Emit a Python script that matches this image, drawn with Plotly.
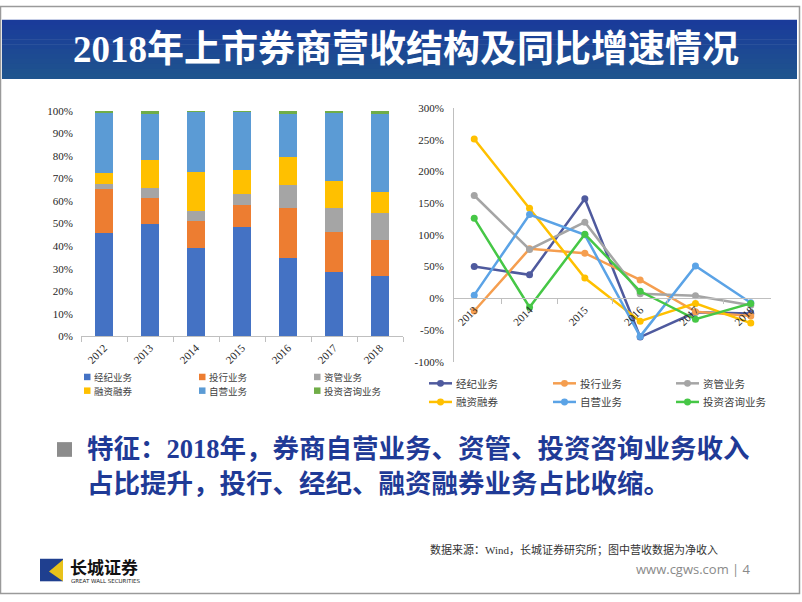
import plotly.graph_objects as go

W, H = 802, 602

# ---------------- data ----------------
years_share = ['2012', '2013', '2014', '2015', '2016', '2017', '2018']
years_growth = ['2013', '2014', '2015', '2016', '2017', '2018']
series_names = ['经纪业务', '投行业务', '资管业务', '融资融券', '自营业务', '投资咨询业务']

share_brokerage = [45.8, 50.0, 39.3, 48.6, 34.7, 28.5, 26.7]
share_ib = [19.4, 11.4, 11.7, 9.5, 22.4, 17.6, 16.2]
share_am = [2.3, 4.6, 4.6, 4.9, 9.8, 10.7, 11.9]
share_margin = [5.0, 12.3, 17.1, 10.7, 12.7, 12.3, 9.2]
share_prop = [26.7, 20.3, 26.9, 25.9, 18.8, 29.9, 34.8]
share_advisory = [0.8, 1.4, 0.4, 0.4, 1.6, 1.0, 1.2]

growth_brokerage = [50, 37, 157, -61, -22, -24]
growth_ib = [-20, 78, 71, 29, -21, -28]
growth_am = [162, 77, 120, 7, 4, -11]
growth_margin = [251, 142, 32, -36, -8, -39]
growth_prop = [5, 132, 100, -60, 51, -7]
growth_advisory = [126, -14, 101, 11, -33, -8]

share_ticks = [0, 10, 20, 30, 40, 50, 60, 70, 80, 90, 100]
share_tick_text = ['0%', '10%', '20%', '30%', '40%', '50%', '60%', '70%', '80%', '90%', '100%']
growth_ticks = [-100, -50, 0, 50, 100, 150, 200, 250, 300]
growth_tick_text = ['-100%', '-50%', '0%', '50%', '100%', '150%', '200%', '250%', '300%']

title_text = '2018年上市券商营收结构及同比增速情况'
note_line1 = '特征：2018年，券商自营业务、资管、投资咨询业务收入'
note_line2 = '占比提升，投行、经纪、融资融券业务占比收缩。'
source_text = '数据来源：Wind，长城证券研究所；图中营收数据为净收入'
site_text = 'www.cgws.com | 4'

bar_colors = ['#4472C4', '#ED7D31', '#A5A5A5', '#FFC000', '#5B9BD5', '#70AD47']
line_colors = ['#4F5A9E', '#F59E4F', '#A5A5A5', '#FFC000', '#5BA3E6', '#46C746']

SERIF = 'Liberation Serif, Noto Sans CJK SC, serif'
CJK = 'Noto Sans CJK SC, sans-serif'


def px(x):
    return x / W


def py(y):
    return 1 - y / H


fig = go.Figure()

share_series = [share_brokerage, share_ib, share_am, share_margin, share_prop, share_advisory]
for name, vals, col in zip(series_names, share_series, bar_colors):
    fig.add_trace(go.Bar(x=years_share, y=vals, name=name, marker_color=col,
                         marker_line_width=0, xaxis='x', yaxis='y', showlegend=False))

growth_series = [growth_brokerage, growth_ib, growth_am, growth_margin, growth_prop, growth_advisory]
for name, vals, col in zip(series_names, growth_series, line_colors):
    fig.add_trace(go.Scatter(x=years_growth, y=vals, name=name, mode='lines+markers',
                             line=dict(color=col, width=2.5),
                             marker=dict(color=col, size=7),
                             xaxis='x2', yaxis='y2', showlegend=False))

# axes geometry
y1_dom = [py(337), py(107)]
y2_dom = [py(363), py(104)]
zero_pos = y2_dom[0] + (0 - (-100)) / 400 * (y2_dom[1] - y2_dom[0])

tickfont = dict(family=SERIF, size=11, color='#262626')

fig.update_layout(
    width=W, height=H,
    margin=dict(l=0, r=0, t=0, b=0),
    paper_bgcolor='white', plot_bgcolor='rgba(0,0,0,0)',
    barmode='stack', bargap=0.6,
    showlegend=False,
    xaxis=dict(domain=[px(81), px(403)], anchor='y', type='category',
               showline=True, linecolor='#BFBFBF', linewidth=1,
               ticks='outside', tickson='boundaries', ticklen=5, tickcolor='#BFBFBF',
               tickangle=-45, tickfont=tickfont, showgrid=False, zeroline=False),
    yaxis=dict(domain=y1_dom, anchor='x', range=[0, 100],
               tickvals=share_ticks, ticktext=share_tick_text,
               showgrid=False, zeroline=False, showline=False,
               ticks='', ticklabelstandoff=7, tickfont=tickfont),
    xaxis2=dict(domain=[px(454), px(771)], anchor='free', position=zero_pos,
                type='category', showline=True, linecolor='#BFBFBF', linewidth=1,
                ticks='outside', tickson='boundaries', ticklen=5, tickcolor='#BFBFBF',
                tickangle=-45, tickfont=tickfont, showgrid=False, zeroline=False),
    yaxis2=dict(domain=y2_dom, anchor='x2', range=[-100, 300],
                tickvals=growth_ticks, ticktext=growth_tick_text,
                showgrid=False, zeroline=False, showline=True,
                linecolor='#BFBFBF', linewidth=1, ticks='',
                ticklabelstandoff=7, tickfont=tickfont),
)

shapes = []
annotations = []

# slide frame
shapes.append(dict(type='rect', xref='paper', yref='paper',
                   x0=px(0.5), x1=px(799.5), y0=py(599.5), y1=py(0.5),
                   line=dict(color='#9A9A9A', width=1.5), fillcolor='rgba(0,0,0,0)'))

# title band with vertical gradient
n = 12
top_rgb = (0x1A, 0x3B, 0x9A)
bot_rgb = (0x1F, 0x54, 0x8E)
y_top, y_bot = 14, 74
for i in range(n):
    t = i / (n - 1)
    c = tuple(int(round(a + (b - a) * t)) for a, b in zip(top_rgb, bot_rgb))
    ya = y_top + (y_bot - y_top) * i / n
    yb = y_top + (y_bot - y_top) * (i + 1) / n
    shapes.append(dict(type='rect', xref='paper', yref='paper', layer='below',
                       x0=px(2), x1=px(797), y0=py(yb + 0.5), y1=py(ya),
                       line=dict(width=0), fillcolor='rgb(%d,%d,%d)' % c))
annotations.append(dict(text='<b>%s</b>' % title_text, xref='paper', yref='paper',
                        x=px(406), y=py(44), xanchor='center', yanchor='middle',
                        showarrow=False, font=dict(family=SERIF, size=37, color='white')))

# left legend (manual)
leg_cols_l = [84, 199, 314]
leg_rows_l = [378.5, 392.5]
for i, (name, col) in enumerate(zip(series_names, bar_colors)):
    cx = leg_cols_l[i % 3]
    cy = leg_rows_l[i // 3]
    shapes.append(dict(type='rect', xref='paper', yref='paper',
                       x0=px(cx), x1=px(cx + 6.5), y0=py(cy + 3.3), y1=py(cy - 3.3),
                       line=dict(width=0), fillcolor=col))
    annotations.append(dict(text=name, xref='paper', yref='paper', x=px(cx + 8.5), y=py(cy),
                            xanchor='left', yanchor='middle', showarrow=False, borderpad=0,
                            font=dict(family=CJK, size=9.5, color='#404040')))

# right legend (manual)
leg_cols_r = [429, 553, 676]
leg_rows_r = [385, 404]
for i, (name, col) in enumerate(zip(series_names, line_colors)):
    lx = leg_cols_r[i % 3]
    cy = leg_rows_r[i // 3]
    shapes.append(dict(type='line', xref='paper', yref='paper',
                       x0=px(lx), x1=px(lx + 23), y0=py(cy), y1=py(cy),
                       line=dict(color=col, width=2.5)))
    shapes.append(dict(type='circle', xref='paper', yref='paper',
                       x0=px(lx + 8), x1=px(lx + 15), y0=py(cy + 3.5), y1=py(cy - 3.5),
                       line=dict(width=0), fillcolor=col))
    annotations.append(dict(text=name, xref='paper', yref='paper', x=px(lx + 25), y=py(cy),
                            xanchor='left', yanchor='middle', showarrow=False,
                            font=dict(family=CJK, size=10.5, color='#404040')))

# bullet note
shapes.append(dict(type='rect', xref='paper', yref='paper',
                   x0=px(57), x1=px(72), y0=py(460), y1=py(445),
                   line=dict(width=0), fillcolor='#8C8C8C'))
note_font = dict(family=SERIF, size=26.5, color='#1F3A96')
annotations.append(dict(text='<b>%s</b>' % note_line1, xref='paper', yref='paper',
                        x=px(85), y=py(452), xanchor='left', yanchor='middle',
                        showarrow=False, font=note_font))
annotations.append(dict(text='<b>%s</b>' % note_line2, xref='paper', yref='paper',
                        x=px(85), y=py(488), xanchor='left', yanchor='middle',
                        showarrow=False, font=note_font))

# source + site
annotations.append(dict(text=source_text, xref='paper', yref='paper',
                        x=px(720), y=py(555), xanchor='right', yanchor='middle',
                        showarrow=False, font=dict(family=SERIF, size=11, color='#333333')))
annotations.append(dict(text=site_text, xref='paper', yref='paper',
                        x=px(753), y=py(574), xanchor='right', yanchor='middle',
                        showarrow=False, font=dict(family='Open Sans, sans-serif', size=13, color='#8A8A8A')))

# logo
shapes.append(dict(type='rect', xref='paper', yref='paper',
                   x0=px(40), x1=px(63), y0=py(587), y1=py(564),
                   line=dict(width=0), fillcolor='#1F3F8F'))
shapes.append(dict(type='path', xref='paper', yref='paper',
                   path='M %f %f L %f %f L %f %f Z' % (px(49), py(577), px(63), py(565), px(63), py(587)),
                   line=dict(width=0), fillcolor='#E8C21A'))
annotations.append(dict(text='<b>长城证券</b>', xref='paper', yref='paper',
                        x=px(68), y=py(572), xanchor='left', yanchor='middle',
                        showarrow=False, font=dict(family=CJK, size=17, color='#111111')))
annotations.append(dict(text='GREAT WALL SECURITIES', xref='paper', yref='paper',
                        x=px(69), y=py(586.5), xanchor='left', yanchor='middle',
                        showarrow=False, font=dict(family='DejaVu Sans, sans-serif', size=5.5, color='#222222')))

fig.update_layout(shapes=shapes, annotations=annotations)

fig.write_html("out.html",
               config={'displayModeBar': False},
               post_script="document.body.style.margin='0';document.body.style.overflow='hidden';")
